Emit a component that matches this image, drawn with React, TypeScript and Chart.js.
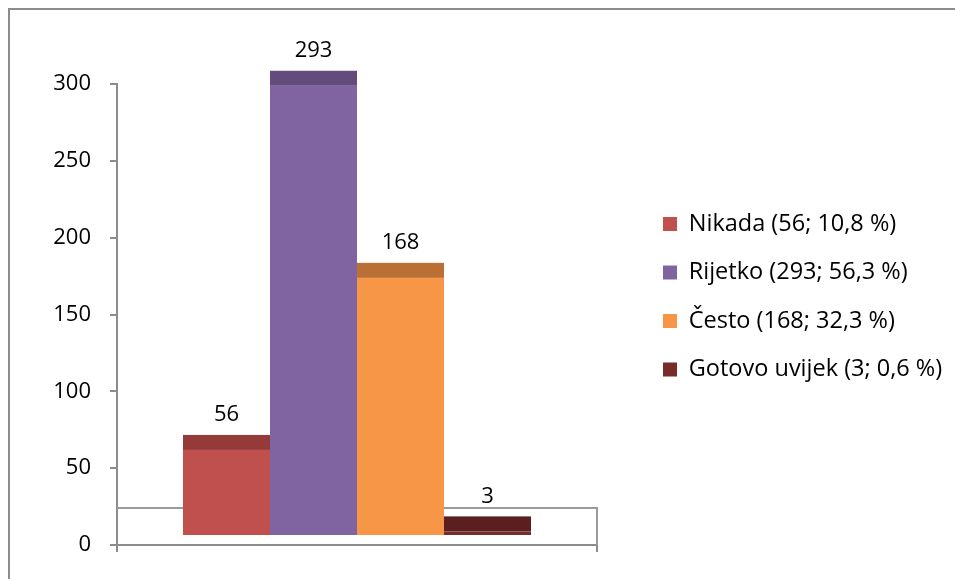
import React, { useEffect, useRef } from 'react';
import { Chart, registerables } from 'chart.js';

Chart.register(...registerables);

// ---- data ----
const categories = ['Nikada', 'Rijetko', 'Često', 'Gotovo uvijek'];
const counts = [56, 293, 168, 3];
const percents = ['10,8', '56,3', '32,3', '0,6'];
const yTicks = [0, 50, 100, 150, 200, 250, 300];

// ---- style ----
const frontColors = ['#C0504D', '#8064A2', '#F79646', '#772C2A'];
const capColors = ['#943B39', '#634C7D', '#BA7035', '#5B1F1F'];
const FONT = 'Open Sans';
const TICK_SIZE = 22;
const LEGEND_SIZE = 23.5;
const AXIS_GRAY = '#8C8C8C';
const CANVAS_W = 945;
const CANVAS_H = 569;
const PLOT_LEFT = 107;
const PLOT_TOP = 74;
const PLOT_RIGHT = 587;
const X_AXIS_H = 34;
const LEGEND_ITEM_X = 653;
const LEGEND_STEP = 48.5;
const LEGEND_BOX = 14;
const RAISE = 9; // front face raised above the axis (3D depth)
const CAP = 15; // top face height
const FLOOR_DEPTH = 37;
const LABEL_GAP = 20;

const legendLabels = categories.map((c, i) => `${c} (${counts[i]}; ${percents[i]} %)`);

const threeD = {
  id: 'threeD',
  beforeDatasetsDraw(chart: any) {
    const { ctx, chartArea } = chart;
    const y0 = chart.scales.y.getPixelForValue(0);
    ctx.save();
    ctx.strokeStyle = '#9A9A9A';
    ctx.lineWidth = 2;
    ctx.beginPath();
    ctx.moveTo(chartArea.left, y0 - FLOOR_DEPTH);
    ctx.lineTo(chartArea.right, y0 - FLOOR_DEPTH);
    ctx.lineTo(chartArea.right, y0);
    ctx.stroke();
    ctx.restore();
    ctx.save();
    ctx.translate(0, -RAISE);
  },
  afterDatasetsDraw(chart: any) {
    const { ctx } = chart;
    chart.data.datasets.forEach((ds: any, i: number) => {
      const meta = chart.getDatasetMeta(i);
      meta.data.forEach((bar: any) => {
        const { x, y, width } = bar.getProps(['x', 'y', 'width'], true);
        ctx.fillStyle = capColors[i];
        ctx.fillRect(x - width / 2, y - CAP, width, CAP);
        ctx.fillStyle = '#000';
        ctx.font = `${TICK_SIZE}px "${FONT}"`;
        ctx.textAlign = 'center';
        ctx.textBaseline = 'middle';
        ctx.fillText(String(counts[i]), x, y - CAP - LABEL_GAP);
      });
    });
    ctx.restore();
  },
};

export default function App() {
  const ref = useRef<HTMLCanvasElement>(null);

  useEffect(() => {
    if (!ref.current) return;
    const itemH = Math.max(LEGEND_BOX, LEGEND_SIZE);
    const legendPad = LEGEND_STEP - itemH;
    const m = document.createElement('canvas').getContext('2d')!;
    m.font = `${LEGEND_SIZE}px "${FONT}"`;
    const maxText = Math.max(...legendLabels.map((t) => m.measureText(t).width));
    const colW = LEGEND_BOX + LEGEND_SIZE / 2 + maxText;
    const legendW = legendPad + colW + 10;
    const legendLeft = LEGEND_ITEM_X - legendPad;
    const gapW = legendLeft - PLOT_RIGHT;
    const padRight = Math.max(0, CANVAS_W - legendLeft - legendW);
    const firstItemTop = 214 - itemH / 2;
    const titleH = firstItemTop - PLOT_TOP - legendPad;

    Chart.defaults.font.family = FONT;
    const chart = new Chart(ref.current, {
      type: 'bar',
      data: {
        labels: [''],
        datasets: categories.map((c, i) => ({
          label: legendLabels[i],
          data: [counts[i]],
          backgroundColor: frontColors[i],
          borderWidth: 0,
          categoryPercentage: 0.725,
          barPercentage: 1,
          clip: false as any,
        })),
      },
      options: {
        responsive: false,
        animation: false,
        devicePixelRatio: 1,
        layout: { padding: { top: PLOT_TOP, left: 0, bottom: 0, right: padRight } },
        plugins: {
          tooltip: { enabled: false },
          legend: {
            position: 'right',
            align: 'start',
            maxWidth: 600,
            title: {
              display: true,
              text: ' ',
              color: 'rgba(0,0,0,0)',
              font: { size: 12, lineHeight: 1.2 },
              padding: { top: 0, bottom: titleH - 14.4 },
            },
            labels: {
              boxWidth: LEGEND_BOX,
              boxHeight: LEGEND_BOX,
              padding: legendPad,
              color: '#000',
              font: { family: FONT, size: LEGEND_SIZE },
            },
          },
        },
        scales: {
          x: {
            offset: true,
            grid: {
              offset: true,
              drawOnChartArea: false,
              tickLength: 7,
              color: AXIS_GRAY,
              lineWidth: 2,
            },
            border: { display: true, color: AXIS_GRAY, width: 2 },
            ticks: { display: false },
            afterFit: (s: any) => {
              s.height = X_AXIS_H;
            },
          },
          y: {
            min: 0,
            max: 300,
            afterBuildTicks: (s: any) => {
              s.ticks = yTicks.map((v) => ({ value: v }));
            },
            ticks: { padding: 19, color: '#000', font: { family: FONT, size: TICK_SIZE } },
            grid: { drawOnChartArea: false, tickLength: 7, color: AXIS_GRAY, lineWidth: 2 },
            border: { display: true, color: AXIS_GRAY, width: 2 },
            afterFit: (s: any) => {
              s.width = PLOT_LEFT;
            },
          },
          y2: {
            position: 'right',
            display: true,
            ticks: { display: false },
            grid: { display: false },
            border: { display: false },
            afterFit: (s: any) => {
              s.width = gapW;
            },
          },
        },
      },
      plugins: [threeD],
    });
    return () => chart.destroy();
  }, []);

  return (
    <div
      style={{
        position: 'fixed',
        left: 8,
        top: 8,
        width: 947,
        height: 571,
        overflow: 'hidden',
        background: '#fff',
      }}
    >
      <div
        style={{
          position: 'absolute',
          left: 0,
          top: 0,
          width: 1000,
          height: 600,
          borderLeft: '2px solid #8C8C8C',
          borderTop: '2px solid #8C8C8C',
        }}
      >
        <canvas ref={ref} width={CANVAS_W} height={CANVAS_H} style={{ display: 'block' }} />
      </div>
    </div>
  );
}
